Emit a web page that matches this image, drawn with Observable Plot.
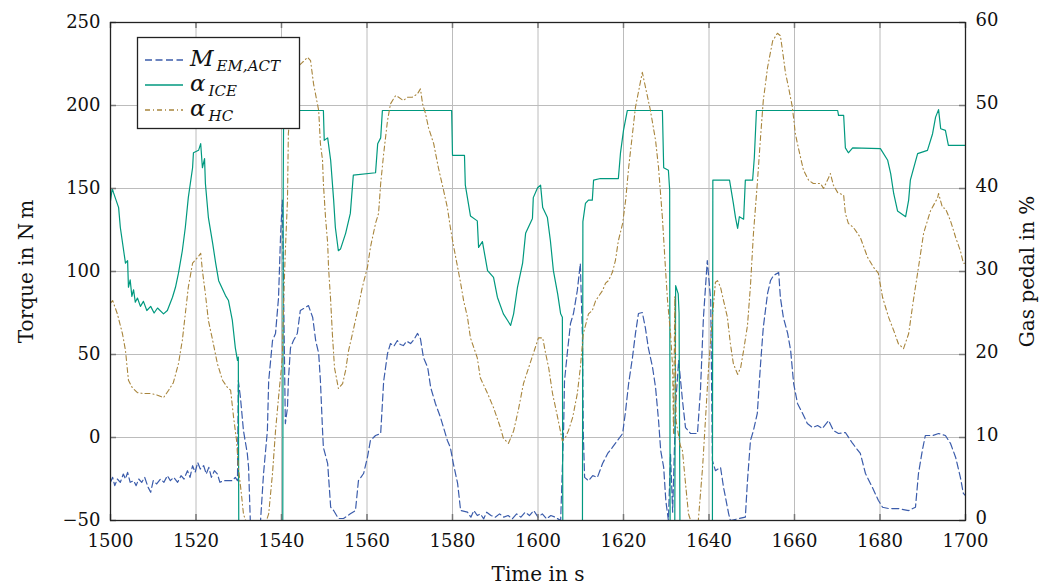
<!DOCTYPE html>
<html>
<head>
<meta charset="utf-8">
<script src="https://cdn.jsdelivr.net/npm/d3@7"></script>
<script src="https://cdn.jsdelivr.net/npm/@observablehq/plot@0.6"></script>
<style>
  html, body { margin: 0; padding: 0; background: #fff; }
  #wrap { position: relative; width: 1051px; height: 588px; }
  #wrap svg text { font-family: "DejaVu Serif", serif; }
  g[aria-label$="axis label"] text { font-size: 20px; }
  #legend { position: absolute; left: 0; top: 0; pointer-events: none; }
</style>
</head>
<body>
<div id="wrap"></div>
<script>
// ---------------- data ----------------
const xTicks = [1500, 1520, 1540, 1560, 1580, 1600, 1620, 1640, 1660, 1680, 1700];
const torqueTicks = [-50, 0, 50, 100, 150, 200, 250];
const pedalTicks = [0, 10, 20, 30, 40, 50, 60];

// M_EM,ACT  [time s, torque N m]
const mEM = [
[1500,-27],[1500.5,-24],[1501,-29],[1501.6,-25],[1502.3,-27],[1503,-22],[1503.5,-25],[1504,-21],[1504.6,-27],[1505.4,-26],
[1506,-29],[1506.6,-25],[1507.3,-27],[1508,-24],[1508.8,-30],[1509.4,-33],[1510,-26],[1510.8,-28],[1511.7,-25],[1512.5,-27],
[1513.3,-23],[1514,-26],[1514.8,-24],[1515.7,-27],[1516.5,-23],[1517.2,-25],[1518,-20],[1518.6,-24],[1519.2,-17],[1519.8,-21],
[1520.4,-15],[1521,-19],[1521.8,-17],[1522.4,-22],[1523,-18],[1523.6,-24],[1524.3,-20],[1525,-22],[1525.6,-27],[1526.4,-26],
[1527.4,-26],[1528.5,-26],[1529.2,-24],[1529.7,-26],[1529.9,34.3],[1530.4,24],[1531.1,4.2],[1532.0,-9.6],[1532.3,-18],[1532.7,-50],
[1535.1,-50],[1535.8,-21.7],[1536.7,4.2],[1537.0,34],[1537.9,58.4],[1538.6,62.7],[1539.3,84],[1539.8,123],[1540.2,143],[1540.9,8.4],
[1541.4,18],[1541.6,34],[1542.1,54],[1542.8,58.4],[1543.7,62.7],[1544.4,76.5],[1545.6,78.3],[1546.3,79.5],[1547.3,72.3],[1548.0,58.4],
[1548.7,50.6],[1549.1,34.3],[1549.6,4.2],[1549.8,-6],[1550.8,-15.7],[1551.5,-42],[1552.2,-44],[1553.3,-48.8],[1554.5,-48.8],[1556.1,-46],
[1557.3,-44],[1558.0,-26],[1559.2,-21.7],[1560.1,-12],[1560.8,-1.8],[1562.0,1.2],[1563.2,2.4],[1563.9,34],[1564.8,50.6],[1565.5,56.6],
[1566.3,55],[1567.1,58.4],[1567.8,56],[1568.5,55.4],[1569.3,58],[1570.2,56.6],[1571.0,59],[1571.8,62.7],[1572.5,59.6],[1573.2,48.2],
[1574.2,42.2],[1574.9,30.1],[1576.0,20.5],[1577.2,12],[1577.9,6],[1578.8,-1.8],[1579.5,-6],[1580.2,-15.7],[1581.2,-27.7],[1581.9,-44],
[1583.5,-45],[1584.3,-48],[1585,-44],[1585.8,-47],[1586.5,-46],[1587.3,-49],[1588,-45],[1589,-47],[1590,-48],[1591,-46],
[1592,-48],[1593,-47],[1594,-49],[1595,-46],[1596,-48],[1597,-45],[1598,-47],[1599,-44],[1600,-48],[1601,-46],
[1602,-49],[1603,-47],[1604,-48],[1605.3,-50],[1606.0,6],[1606.2,34],[1606.9,52],[1607.6,68.7],[1608.3,74.7],[1609.2,88.6],
[1609.9,104.8],[1610.4,60],[1610.6,2.4],[1610.9,-24],[1611.8,-26],[1612.8,-23],[1613.9,-24],[1615.1,-15.7],[1616.3,-9.6],[1617.4,-6],
[1618.6,-1.8],[1619.8,2.4],[1620.5,16.3],[1621.2,32.5],[1622.1,48.2],[1622.8,62.7],[1623.5,74.7],[1624.4,75.3],[1625.1,66.3],[1625.8,54.2],
[1626.8,42.2],[1627.5,30.1],[1628.2,10.2],[1628.7,-7.8],[1629.4,-18],[1629.9,-38],[1630.5,-50],[1631.0,-10],[1631.5,-45],[1632.2,20],
[1632.9,46.4],[1633.8,22.3],[1634.5,6],[1635.7,2.4],[1637.3,2.4],[1638.0,28.3],[1638.7,72.3],[1639.6,106.6],[1640.4,82.5],[1640.8,-13.9],
[1641.5,-20],[1642.7,-18],[1643.4,-30],[1644.6,-46],[1645.0,-50],[1648.5,-48],[1649.0,-26],[1649.7,-1.8],[1650.4,4.2],[1651.3,14.5],
[1652.0,42.2],[1652.7,66.3],[1653.7,86.8],[1654.4,94.6],[1655.1,97.6],[1656.3,99.4],[1656.7,84.3],[1657.4,72.3],[1658.4,62.7],[1659.1,52.4],
[1659.8,32.5],[1660.7,20.5],[1661.9,14.5],[1663.0,8.4],[1664.2,6],[1665.4,7.2],[1666.5,5.4],[1668.0,10.2],[1669.1,4.2],[1670.3,2.4],
[1671.9,3],[1673.6,-3.6],[1675.4,-9.6],[1676.6,-21.7],[1678.2,-30],[1679.6,-37.8],[1680.6,-42],[1682.0,-42.8],[1684.3,-42.8],[1686.7,-44],
[1688.3,-42],[1689.0,-21.7],[1689.9,-7.8],[1690.6,1.2],[1692.3,1.2],[1693.7,2.4],[1695.3,1.2],[1696.5,-3.6],[1697.7,-12],[1698.8,-24],
[1699.5,-33.7],[1700,-35]
];

// alpha_ICE  [time s, gas pedal %]
const alphaICE = [
[1500,38.5],[1500.4,40],[1500.7,39.5],[1501.9,37.7],[1502.3,35.3],[1503.5,31],[1504.0,31.3],[1504.2,28.1],[1504.6,29],[1505.0,27],
[1505.4,27.8],[1505.8,26.3],[1506.3,26.8],[1507.0,25.8],[1507.7,26.4],[1508.5,25.3],[1509.4,25.8],[1510.2,25],[1511.0,25.6],[1512.4,24.9],
[1513.3,25.3],[1514.5,26.9],[1515.2,28.1],[1515.9,29.8],[1516.8,32.5],[1517.5,35.3],[1518.2,38.9],[1519.2,42.5],[1519.4,44.3],[1520.6,44.6],
[1521.1,45.4],[1521.5,42.5],[1522.0,43.6],[1522.2,40.6],[1522.9,36.5],[1523.9,33.4],[1524.6,31],[1525.3,28.9],[1526.9,27.1],[1527.6,26.5],
[1528.5,24.1],[1529.2,20.8],[1529.7,19.3],[1529.9,19.7],[1530.0,0],[1540.3,0],[1540.4,40],[1540.5,49.4],[1549.8,49.4],[1550.0,45.8],
[1550.8,46.1],[1551.5,43.4],[1552.2,38.6],[1552.6,35.3],[1553.3,32.5],[1553.8,32.7],[1555.0,34.6],[1556.1,37],[1556.8,41.6],[1562.0,41.9],
[1562.5,45.4],[1563.2,46.1],[1563.6,49.4],[1579.8,49.4],[1580.0,44],[1582.8,44],[1583.0,40.4],[1584.2,36.7],[1585.8,36.1],[1586.1,32.9],
[1587.0,33.6],[1588.2,30.1],[1589.6,29.3],[1590.5,26.9],[1591.9,24.9],[1592.9,24.1],[1593.6,23.5],[1594.3,24.9],[1595.2,28.1],[1596.4,31],
[1597.1,34.6],[1598.7,36.4],[1598.9,38.9],[1599.9,40.1],[1600.6,40.4],[1601.1,37.7],[1602.2,36.5],[1602.9,33.7],[1603.6,30.1],[1604.6,27.3],
[1605.3,24.9],[1605.7,24.5],[1605.8,0],[1610.4,0],[1610.5,36],[1611.1,38.2],[1611.8,38.6],[1612.7,38.6],[1613.0,41],[1614.6,41.2],
[1618.8,41.2],[1619.3,44.3],[1620.0,47],[1620.9,49.4],[1629.1,49.4],[1629.4,42.5],[1630.5,42.2],[1630.8,39.8],[1630.9,0],[1632.0,0],
[1632.2,28.3],[1632.8,27.3],[1633.0,25],[1633.2,0],[1640.8,0],[1640.9,41],[1644.8,41],[1645.7,38.2],[1646.2,36.5],[1646.7,35.2],
[1647.1,36.6],[1648.1,36.3],[1648.5,41],[1650.2,41],[1650.6,43.7],[1651.1,49.4],[1670.1,49.4],[1670.3,48.8],[1671.5,48.8],[1671.9,44.9],
[1672.6,44.3],[1673.6,44.9],[1680.1,44.8],[1681.8,43.4],[1682.5,41.8],[1683.2,39.4],[1684.1,37.3],[1686.0,36.6],[1686.7,38.6],[1687.1,41],
[1688.8,44.2],[1691.1,44.6],[1692.3,46.6],[1693.0,48.6],[1693.7,49.5],[1694.2,47.2],[1695.3,47],[1696.0,45.2],[1700,45.2]
];

// alpha_HC  [time s, gas pedal %]
const alphaHC = [
[1500,26.2],[1500.5,26.5],[1501.6,24.9],[1502.8,22.5],[1503.5,20.5],[1504.2,16.9],[1505.1,16],[1506.3,15.4],[1507.7,15.3],[1509.4,15.3],
[1511.0,15.1],[1512.4,14.8],[1513.6,15.7],[1514.7,16.6],[1515.9,18.9],[1516.8,21.7],[1517.5,24.9],[1518.2,28.1],[1519.2,31],[1520.4,31.7],
[1521.1,32.2],[1521.5,30.1],[1522.2,27.3],[1522.9,24.1],[1523.9,21.7],[1525.0,18.9],[1526.2,16.9],[1527.4,16],[1528.1,15.7],[1528.8,12.4],
[1529.5,9.6],[1529.9,6.4],[1530.6,3.3],[1531.1,0.8],[1531.6,0],[1536.5,0],[1537.0,0.8],[1537.9,5.7],[1538.6,10.8],[1539.3,14.8],
[1540.2,19.6],[1540.5,26.5],[1540.9,32.5],[1541.4,38.6],[1541.6,46.6],[1542.6,52.6],[1543.7,54.6],[1544.9,55.2],[1546.1,55.8],[1546.8,55.4],
[1547.5,52.6],[1548.4,50.2],[1548.7,49.4],[1549.1,45.4],[1549.6,43.4],[1549.8,40.6],[1550.3,36.5],[1550.8,33.4],[1551.0,30.5],[1551.5,26.5],
[1551.9,22.5],[1552.4,18.4],[1553.1,16.5],[1553.3,15.9],[1554.3,16.5],[1555.0,18.1],[1555.7,20.5],[1556.6,22.5],[1557.8,25.3],[1558.9,28.1],
[1560.1,30.5],[1560.8,32.9],[1561.5,34.6],[1562.0,35.8],[1562.7,37],[1563.2,40.6],[1563.9,44.2],[1564.8,48.2],[1565.5,50.2],[1566.7,51.2],
[1567.4,51],[1568.5,50.6],[1569.5,51],[1570.6,51],[1571.8,51.4],[1572.5,52],[1573.0,50.2],[1573.7,49],[1574.4,47.3],[1575.6,45.4],
[1576.7,42.5],[1577.9,39.8],[1578.8,37.7],[1579.5,35.3],[1580.2,33.2],[1581.2,30.5],[1581.9,28.6],[1582.6,26.5],[1583.5,24.5],[1584.2,22],
[1585.8,19.6],[1586.5,17.2],[1588.2,15.3],[1589.6,13.6],[1591.2,11.2],[1591.9,9.9],[1593.1,9.3],[1594.3,10.8],[1595.4,13.3],[1596.6,16.5],
[1597.8,18.4],[1598.9,20.1],[1600.1,22],[1601.1,22],[1601.8,20.1],[1602.5,18.4],[1603.4,15.3],[1604.6,12.4],[1605.7,9.6],[1606.4,10],
[1607.1,10.8],[1608.1,12.4],[1609.2,15.3],[1609.9,18.4],[1610.6,22.5],[1611.8,24.9],[1612.7,25.3],[1613.5,26.5],[1615.1,27.7],[1615.8,28.6],
[1616.5,28.9],[1617.4,29.9],[1618.1,31.3],[1618.8,33.7],[1619.8,35.8],[1620.5,38.6],[1621.2,42.5],[1622.1,46.6],[1622.8,49.8],[1624.4,54],
[1626.3,49.4],[1627.5,45.8],[1628.2,42.5],[1629.1,36.5],[1629.8,30.5],[1630.3,26.5],[1631.0,22.5],[1631.5,18.4],[1631.7,10.5],[1632.0,27],
[1632.3,12],[1633.3,9],[1633.8,8.4],[1634.5,4.5],[1635.2,0.8],[1635.7,0],[1637.5,0],[1638.5,6.4],[1639.2,12.4],[1639.9,18.4],
[1640.8,24.5],[1641.5,28.7],[1642.0,28.9],[1642.7,28.1],[1643.4,26.5],[1644.3,24.5],[1645.0,21.3],[1645.7,18.9],[1646.7,17.6],[1647.4,18.4],
[1648.1,20.5],[1649.0,23.5],[1649.7,28.3],[1650.4,34.6],[1651.3,40.6],[1652.0,45.8],[1652.7,50.6],[1653.7,54.6],[1654.9,57.8],[1656.0,58.7],
[1656.7,58.4],[1657.2,56.6],[1657.9,53.9],[1658.6,52.2],[1659.5,49.8],[1660.2,46.6],[1660.9,44.9],[1662.1,42.2],[1663.3,41],[1664.4,40.6],
[1666.1,40.6],[1666.8,40],[1667.7,41],[1668.4,41.8],[1669.1,40.4],[1670.1,39.5],[1671.5,39.2],[1671.9,37],[1672.6,35.8],[1673.8,35.3],
[1675.4,34.1],[1677.1,31.7],[1678.5,30.5],[1679.6,29.8],[1680.6,26.9],[1682.0,24.5],[1683.2,22.9],[1684.3,21.3],[1685.5,20.7],[1686.7,22.5],
[1687.8,26.5],[1689.0,30.5],[1690.2,34.6],[1691.8,37.3],[1693.5,38.9],[1693.7,39.4],[1694.6,37.7],[1695.3,37.6],[1696.5,36.1],[1697.7,34.1],
[1698.8,32.5],[1699.5,31],[1700,31]
];

// ---------------- chart ----------------
const blue = "#3b5cab", teal = "#00997f", brown = "#a8853c";
const toT = p => -50 + 5 * p;                 // gas pedal % -> torque axis coordinate
const fmt = d => d < 0 ? "\u2212" + Math.abs(d) : String(d);

const chart = Plot.plot({
  width: 1051, height: 588,
  marginLeft: 110, marginRight: 86, marginTop: 22, marginBottom: 68,
  x: {domain: [1500, 1700]},
  y: {domain: [-50, 250]},
  style: {fontFamily: "DejaVu Serif", fontSize: "18px", background: "white", color: "#111"},
  marks: [
    Plot.gridX(xTicks, {stroke: "#bcbcbc", strokeOpacity: 1, strokeWidth: 1}),
    Plot.gridY(torqueTicks, {stroke: "#bcbcbc", strokeOpacity: 1, strokeWidth: 1}),
    Plot.line(mEM, {x: d => d[0], y: d => d[1], stroke: blue, strokeWidth: 1.2, strokeDasharray: "7,3.5", clip: true}),
    Plot.line(alphaICE, {x: d => d[0], y: d => toT(d[1]), stroke: teal, strokeWidth: 1.2, clip: true}),
    Plot.line(alphaHC, {x: d => d[0], y: d => toT(d[1]), stroke: brown, strokeWidth: 1.1, strokeDasharray: "5,3,1,3", clip: true}),
    // inward tick marks
    Plot.ruleX(xTicks, {y1: -50, y2: -46.4, stroke: "#777", strokeWidth: 1.5}),
    Plot.ruleX(xTicks, {y1: 250, y2: 246.4, stroke: "#777", strokeWidth: 1.5}),
    Plot.ruleY(torqueTicks, {x1: 1500, x2: 1501.4, stroke: "#777", strokeWidth: 1.5}),
    Plot.ruleY(pedalTicks.map(toT), {x1: 1698.6, x2: 1700, stroke: "#777", strokeWidth: 1.5}),
    Plot.frame({stroke: "#222", strokeWidth: 1.3}),
    Plot.axisX(xTicks, {tickSize: 0, tickPadding: 14, tickFormat: fmt, label: "Time in s", labelAnchor: "center", labelArrow: "none", labelOffset: 60}),
    Plot.axisY(torqueTicks, {anchor: "left", tickSize: 0, tickPadding: 10, tickFormat: fmt, label: "Torque in N\u2009m", labelAnchor: "center", labelArrow: "none", labelOffset: 92}),
    Plot.axisY(pedalTicks.map(toT), {anchor: "right", tickSize: 0, tickPadding: 10, dy: -2, tickFormat: d => fmt(Math.round((d + 50) / 5)), label: "Gas pedal in %", labelAnchor: "center", labelArrow: "none", labelOffset: 68})
  ]
});
document.getElementById("wrap").appendChild(chart);

// ---------------- legend ----------------
const legendItems = [
  {main: "M", sub: "EM,ACT", color: blue, dash: "7,3.5"},
  {main: "\u03b1", sub: "ICE", color: teal, dash: null},
  {main: "\u03b1", sub: "HC", color: brown, dash: "5,3,1,3"}
];
const ns = "http://www.w3.org/2000/svg";
const lg = document.createElementNS(ns, "svg");
lg.setAttribute("id", "legend");
lg.setAttribute("width", 1051); lg.setAttribute("height", 588);
document.getElementById("wrap").appendChild(lg);
const box = document.createElementNS(ns, "rect");
box.setAttribute("x", 137.5); box.setAttribute("y", 37.5);
box.setAttribute("width", 162); box.setAttribute("height", 91);
box.setAttribute("fill", "white"); box.setAttribute("stroke", "#222"); box.setAttribute("stroke-width", 1.3);
lg.appendChild(box);
function mkText(str, x, y, size) {
  const t = document.createElementNS(ns, "text");
  t.setAttribute("x", x); t.setAttribute("y", y);
  t.setAttribute("font-family", "DejaVu Serif, serif");
  t.setAttribute("font-style", "italic");
  t.setAttribute("font-size", size);
  t.setAttribute("fill", "#111");
  t.textContent = str;
  lg.appendChild(t);
  return t;
}
legendItems.forEach((it, i) => {
  const cy = 60 + i * 25;
  const ln = document.createElementNS(ns, "line");
  ln.setAttribute("x1", 145); ln.setAttribute("x2", 183);
  ln.setAttribute("y1", cy); ln.setAttribute("y2", cy);
  ln.setAttribute("stroke", it.color); ln.setAttribute("stroke-width", 1.3);
  if (it.dash) ln.setAttribute("stroke-dasharray", it.dash);
  lg.appendChild(ln);
  const m = mkText(it.main, 190, cy + 6, 23);
  const w = m.getComputedTextLength();
  mkText(it.sub, 190 + w + 3, cy + 11, 15);
});
</script>
</body>
</html>
